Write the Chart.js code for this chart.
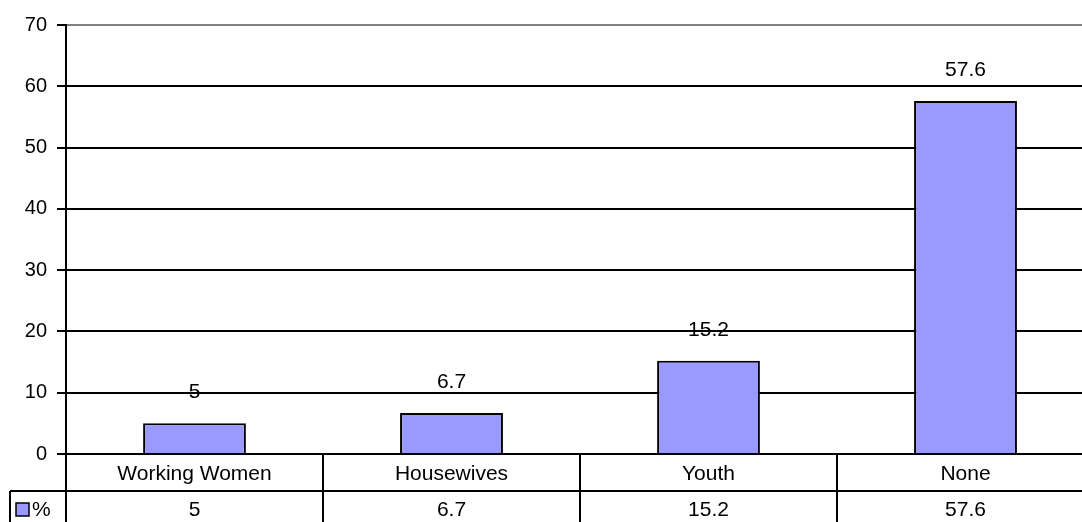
<!DOCTYPE html>
<html>
<head>
<meta charset="utf-8">
<script src="https://cdn.jsdelivr.net/npm/chart.js@4/dist/chart.umd.min.js"></script>
<style>
  html, body { margin: 0; padding: 0; overflow: hidden; background: #ffffff; }
  #wrap { position: absolute; left: 0; top: 0; width: 1110px; height: 522px; }
</style>
</head>
<body>
<div id="wrap"><canvas id="c" width="1110" height="522"></canvas></div>
<script>
// Survey answers (percent) by group
const categories = ['Working Women', 'Housewives', 'Youth', 'None'];
const seriesName = '%';
const percentValues = [5, 6.7, 15.2, 57.6];
const yTickValues = [0, 10, 20, 30, 40, 50, 60, 70];

const FONT = 'Liberation Sans, Arial, sans-serif';
const BAR_FILL = '#9999FF';

// Value labels above each bar
const barValueLabels = {
  id: 'barValueLabels',
  afterDatasetsDraw(chart) {
    const { ctx } = chart;
    const meta = chart.getDatasetMeta(0);
    ctx.save();
    ctx.font = '21px ' + FONT;
    ctx.fillStyle = '#000';
    ctx.textAlign = 'center';
    ctx.textBaseline = 'middle';
    meta.data.forEach((bar, i) => {
      ctx.fillText(String(chart.data.datasets[0].data[i]), bar.x, bar.y - 31);
    });
    ctx.restore();
  }
};

// Data table under the plot: grid lines, legend key and the value row
const dataTable = {
  id: 'dataTable',
  afterDraw(chart) {
    const { ctx, chartArea } = chart;
    const x = chart.scales.x;
    const n = categories.length;
    const colW = (chartArea.right - chartArea.left) / n;
    const top = chartArea.bottom;
    const rowSplit = top + 37;
    const bottom = chart.height + 10;
    const tableLeft = 10;

    ctx.save();
    ctx.strokeStyle = '#000';
    ctx.lineWidth = 2;
    ctx.beginPath();
    // line between category row and value row
    ctx.moveTo(tableLeft, rowSplit);
    ctx.lineTo(chartArea.right + 2, rowSplit);
    // left border of the legend cell
    ctx.moveTo(tableLeft, rowSplit);
    ctx.lineTo(tableLeft, bottom);
    // column separators
    for (let i = 0; i <= n; i++) {
      const cx = Math.round(chartArea.left + i * colW);
      ctx.moveTo(cx, top);
      ctx.lineTo(cx, bottom);
    }
    ctx.stroke();

    // legend key
    const valueY = rowSplit + 19;
    ctx.fillStyle = BAR_FILL;
    ctx.fillRect(16, valueY - 7, 13, 13);
    ctx.lineWidth = 1.5;
    ctx.strokeRect(16, valueY - 7, 13, 13);
    ctx.fillStyle = '#000';
    ctx.font = '21px ' + FONT;
    ctx.textAlign = 'left';
    ctx.textBaseline = 'middle';
    ctx.fillText(seriesName, 32, valueY);

    // value row
    ctx.textAlign = 'center';
    percentValues.forEach((v, i) => {
      ctx.fillText(String(v), x.getPixelForValue(i), valueY);
    });
    ctx.restore();
  }
};

new Chart(document.getElementById('c'), {
  type: 'bar',
  data: {
    labels: categories,
    datasets: [{
      label: seriesName,
      data: percentValues,
      backgroundColor: BAR_FILL,
      borderColor: '#000000',
      borderWidth: 2,
      borderSkipped: 'bottom',
      categoryPercentage: 1.0,
      barPercentage: 0.4
    }]
  },
  options: {
    responsive: false,
    animation: false,
    devicePixelRatio: 1,
    layout: { padding: { top: 25, right: 16, bottom: 0, left: 0 } },
    plugins: {
      legend: { display: false },
      tooltip: { enabled: false }
    },
    scales: {
      x: {
        type: 'category',
        offset: true,
        grid: { display: false, drawTicks: false },
        border: { display: false },
        ticks: {
          color: '#000',
          font: { family: FONT, size: 21 },
          padding: 8,
          maxRotation: 0,
          autoSkip: false
        },
        afterFit(scale) { scale.height = 68; }
      },
      y: {
        min: 0,
        max: 70,
        afterBuildTicks(scale) { scale.ticks = yTickValues.map(v => ({ value: v })); },
        grid: {
          color: (c) => (c.tick && c.tick.value === 70 ? '#808080' : '#000000'),
          lineWidth: 2,
          tickColor: '#000000',
          tickLength: 9,
          drawTicks: true
        },
        border: { display: true, color: '#000000', width: 2 },
        ticks: {
          color: '#000',
          font: { family: FONT, size: 20 },
          padding: 10
        },
        afterFit(scale) { scale.width = 66; }
      }
    }
  },
  plugins: [barValueLabels, dataTable]
});
</script>
</body>
</html>
